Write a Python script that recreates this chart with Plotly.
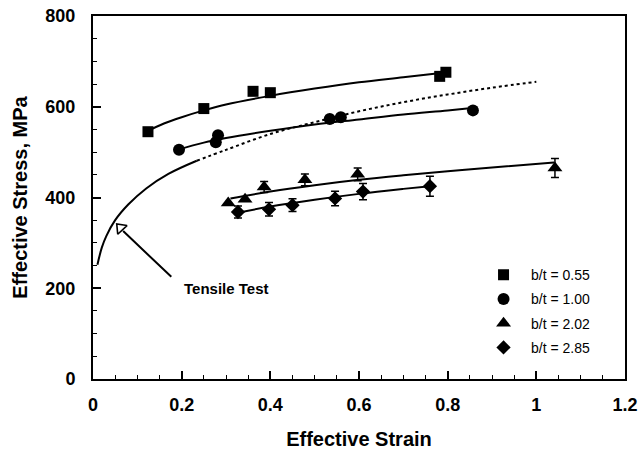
import plotly.graph_objects as go

# ---- data ----
sq_x = [0.124, 0.25, 0.361, 0.40, 0.782, 0.796]
sq_y = [545, 596, 634, 631, 667, 676]

ci_x = [0.194, 0.277, 0.282, 0.534, 0.559, 0.857]
ci_y = [505, 522, 537, 573, 577, 592]
ci_e = [0, 0, 0, 0, 0, 8]

tr_x = [0.305, 0.343, 0.386, 0.478, 0.597, 1.042]
tr_y = [388, 396, 423, 439, 451, 465]
tr_e = [0, 0, 12, 13, 14, 21]

di_x = [0.327, 0.397, 0.45, 0.546, 0.609, 0.76]
di_y = [368, 374, 383, 398, 413, 425]
di_e = [13, 15, 14, 16, 18, 22]

# fitted curves
sq_fit_x = [0.12, 0.16, 0.2, 0.25, 0.3, 0.4, 0.5, 0.6, 0.7, 0.79]
sq_fit_y = [545, 563, 577, 592, 605, 624, 640, 654, 665, 675]
ci_fit_x = [0.19, 0.25, 0.3, 0.4, 0.5, 0.6, 0.7, 0.8, 0.86]
ci_fit_y = [505, 521, 531, 547, 561, 572, 583, 592, 598]
tr_fit_x = [0.31, 0.4, 0.5, 0.6, 0.7, 0.8, 0.9, 1.04]
tr_fit_y = [398, 413, 427, 439, 449, 458, 466, 477]
di_fit_x = [0.33, 0.4, 0.5, 0.6, 0.7, 0.76]
di_fit_y = [367, 380, 395, 408, 419, 425]

# tensile test curve: solid part, then dotted extrapolation
ts_x = [0.01, 0.02, 0.03, 0.05, 0.08, 0.12, 0.17, 0.234]
ts_y = [252, 290, 315, 350, 385, 420, 452, 481]
td_x = [0.234, 0.3, 0.4, 0.5, 0.6, 0.7, 0.8, 0.9, 1.0]
td_y = [481, 505, 540, 566, 590, 610, 627, 642, 655]

legend_names = ["b/t = 0.55", "b/t = 1.00", "b/t = 2.02", "b/t = 2.85"]

FONT = "Liberation Sans, Arial, sans-serif"
BLK = "black"

fig = go.Figure()

# lines
for fx, fy in [(sq_fit_x, sq_fit_y), (ci_fit_x, ci_fit_y), (tr_fit_x, tr_fit_y), (di_fit_x, di_fit_y), (ts_x, ts_y)]:
    fig.add_trace(go.Scatter(x=fx, y=fy, mode="lines", line=dict(color=BLK, width=2, shape="spline"),
                             showlegend=False, hoverinfo="skip"))
fig.add_trace(go.Scatter(x=td_x, y=td_y, mode="lines", line=dict(color=BLK, width=2, dash="dot", shape="spline"),
                         showlegend=False, hoverinfo="skip"))

# markers
def err(arr):
    return dict(type="data", array=arr, visible=True, color=BLK, thickness=1.5, width=4)

fig.add_trace(go.Scatter(x=sq_x, y=sq_y, mode="markers", name=legend_names[0], legendgroup="a",
                         marker=dict(symbol="square", size=11, color=BLK)))
fig.add_trace(go.Scatter(x=ci_x, y=ci_y, mode="markers", name=legend_names[1], legendgroup="b",
                         marker=dict(symbol="circle", size=12, color=BLK), error_y=err(ci_e)))
fig.add_trace(go.Scatter(x=tr_x, y=tr_y, mode="markers", name=legend_names[2], legendgroup="c",
                         marker=dict(symbol="triangle-up", size=13, color=BLK), error_y=err(tr_e)))
fig.add_trace(go.Scatter(x=di_x, y=di_y, mode="markers", name=legend_names[3], legendgroup="d",
                         marker=dict(symbol="diamond", size=11, color=BLK), error_y=err(di_e)))

# open arrowhead for the "Tensile Test" pointer
fig.add_trace(go.Scatter(x=[0.062], y=[333], mode="markers", showlegend=False, hoverinfo="skip",
                         marker=dict(symbol="triangle-up-open", size=11, angle=-43,
                                     line=dict(color=BLK, width=1.6), color=BLK)))

fig.add_annotation(x=0.068, y=326, ax=0.18, ay=222, axref="x", ayref="y", xref="x", yref="y",
                   showarrow=True, arrowhead=0, arrowwidth=2, arrowcolor=BLK, text="")
fig.add_annotation(x=0.2, y=200, xref="x", yref="y", text="Tensile Test", showarrow=False,
                   xanchor="left", yanchor="middle",
                   font=dict(family=FONT, size=15, color=BLK, weight="bold"))

axis_common = dict(showline=True, linecolor=BLK, linewidth=2, mirror=True, ticks="inside",
                   tickcolor=BLK, tickwidth=1.5, ticklen=8, showgrid=False, zeroline=False,
                   automargin=False,
                   tickfont=dict(family=FONT, size=18, color=BLK, weight="bold"))

fig.update_xaxes(range=[0, 1.2], dtick=0.2, tick0=0,
                 minor=dict(ticks="inside", dtick=0.05, ticklen=4, tickcolor=BLK, tickwidth=1),
                 title=dict(text="Effective Strain", standoff=18,
                            font=dict(family=FONT, size=20, color=BLK, weight="bold")),
                 ticklabelstandoff=8, **axis_common)
fig.update_yaxes(range=[0, 800], dtick=200, tick0=0,
                 minor=dict(ticks="inside", dtick=50, ticklen=4, tickcolor=BLK, tickwidth=1),
                 title=dict(text="Effective Stress, MPa", standoff=12,
                            font=dict(family=FONT, size=20, color=BLK, weight="bold")),
                 ticklabelstandoff=12, **axis_common)

fig.update_layout(
    width=639, height=450,
    margin=dict(l=93, r=14, t=16, b=71),
    paper_bgcolor="white", plot_bgcolor="white",
    font=dict(family=FONT, color=BLK),
    legend=dict(x=0.72, y=0.33, xanchor="left", yanchor="top", bgcolor="rgba(0,0,0,0)",
                font=dict(family=FONT, size=14, color=BLK), tracegroupgap=3, traceorder="grouped",
                itemwidth=45),
)

fig.write_html("out.html")
